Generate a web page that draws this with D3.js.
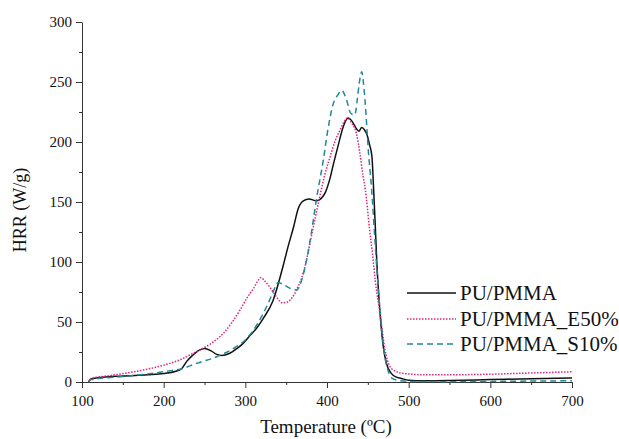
<!DOCTYPE html>
<html>
<head>
<meta charset="utf-8">
<script src="https://cdn.jsdelivr.net/npm/d3@7"></script>
<style>
  body { margin: 0; background: #fff; }
  text { font-family: "Liberation Serif", "Times New Roman", serif; fill: #111; }
</style>
</head>
<body>
<script>
// HRR curves, [temperature, HRR]
var puPmma = [
  [108,0],[111,2.5],[120,3.5],[150,5],[180,6],[200,7],[215,9],[222,11],[228,17],
  [235,22],[242,26],[250,28],[258,26],[265,23],[271,22],[281,24],[290,28],[297,32],
  [306,39],[314,45],[322,53],[334,68],[346,96],[352,112],[359,129],[365,145],
  [371,151],[378,152.5],[387,151],[393,153],[398,158],[403,168],[408,182],[414,198],
  [420,213],[426,220],[431,217],[436,211],[439,209],[442.5,212],[446,210],[449,206],
  [452,198],[455,188],[457,162],[459,132],[461,100],[465,57],[469,29],[473,15],
  [479,7],[485,4],[491,3],[500,1.5],[520,1],[550,1.2],[600,2],[650,2.8],[700,3.3]
];
var puPmmaE50 = [
  [108,0],[111,3],[130,5],[150,7],[175,10],[200,14],[220,18.5],[232,22.5],[248,28],
  [260,33],[273,40.5],[283,49],[293.5,60],[302,70],[310,78],[316,85],[319,87],
  [324,84],[330,79],[338,71],[345,66],[351,66.5],[358,71],[365,80],[371,91],
  [379,115],[385,135],[391,154],[397,172],[404,188],[410,201],[416,210],[421,217],
  [425,220],[430,216],[436,207],[440,192],[444,172],[447,160],[452,128],[456,105],
  [459,85],[465,57],[471,27],[477,13],[485,8.6],[495,7],[520,6],[550,6],[600,6.5],
  [650,7.5],[700,8.5]
];
var puPmmaS10 = [
  [108,0],[111,2],[150,4.5],[204,9],[224,11.4],[240,15.5],[265,21],[289,29.5],
  [300,35],[314,47.5],[326,62.7],[334,75],[340,83],[347,81],[355,78],[363,76.7],
  [369,85],[375,101.7],[381,125],[387,152],[395.5,185],[401,210],[407.7,232],
  [413,239],[418,243],[424,235],[429,224],[434,222.5],[437,235],[439.5,249],
  [442.5,258.6],[444.5,250],[446.5,235],[450.6,193],[454.7,160],[458.7,118],
  [462,85],[466,52],[470,25],[475,9],[480,3],[490,1],[500,0.5],[550,0.3],
  [600,0.5],[650,0.8],[700,1]
];

var seriesNames = ["PU/PMMA", "PU/PMMA_E50%", "PU/PMMA_S10%"];
var xTicks = [100, 200, 300, 400, 500, 600, 700];
var yTicks = [0, 50, 100, 150, 200, 250, 300];

var width = 619, height = 439;

var svg = d3.select("body").append("svg")
    .attr("width", width)
    .attr("height", height);

var x = d3.scaleLinear().domain([100, 700]).range([82, 572]);
var y = d3.scaleLinear().domain([0, 300]).range([382, 22]);

// minor ticks first, then major ticks with labels
svg.append("g")
    .attr("transform", "translate(0," + y(0) + ")")
    .call(d3.axisBottom(x).tickValues(d3.range(150, 700, 100)).tickSize(3).tickFormat(""))
    .call(function(g) { g.select(".domain").remove(); });
svg.append("g")
    .attr("transform", "translate(" + x(100) + ",0)")
    .call(d3.axisLeft(y).tickValues(d3.range(25, 300, 50)).tickSize(3).tickFormat(""))
    .call(function(g) { g.select(".domain").remove(); });

var xAxis = svg.append("g")
    .attr("transform", "translate(0," + y(0) + ")")
    .call(d3.axisBottom(x).tickValues(xTicks).tickSize(6).tickPadding(7).tickSizeOuter(0));
var yAxis = svg.append("g")
    .attr("transform", "translate(" + x(100) + ",0)")
    .call(d3.axisLeft(y).tickValues(yTicks).tickSize(6).tickPadding(4).tickSizeOuter(0));

svg.selectAll(".tick line, .domain").attr("stroke", "#333").attr("stroke-width", 1);
svg.selectAll(".tick text")
    .style("font-family", "Liberation Serif")
    .style("font-size", "15px")
    .attr("fill", "#111");

svg.append("text")
    .attr("x", 326)
    .attr("y", 433)
    .attr("text-anchor", "middle")
    .style("font-size", "19px")
    .text("Temperature (ºC)");

svg.append("text")
    .attr("transform", "translate(26,210)rotate(-90)")
    .attr("text-anchor", "middle")
    .style("font-size", "18px")
    .text("HRR (W/g)");

var styles = [
  {color: "#111", dash: null, data: puPmma},
  {color: "#e0207f", dash: "1.5,1.5", data: puPmmaE50},
  {color: "#23869a", dash: "6,4", data: puPmmaS10}
];

var line = d3.line()
    .x(function(d) { return x(d[0]); })
    .y(function(d) { return y(d[1]); })
    .curve(d3.curveMonotoneX);

svg.selectAll("path.curve")
    .data(styles)
  .enter().append("path")
    .attr("class", "curve")
    .attr("fill", "none")
    .attr("stroke", function(d) { return d.color; })
    .attr("stroke-width", 1.5)
    .attr("stroke-dasharray", function(d) { return d.dash; })
    .attr("d", function(d) { return line(d.data); });

// legend
var legendY = [293, 319, 344];
var legend = svg.selectAll("g.legend")
    .data(styles)
  .enter().append("g")
    .attr("class", "legend")
    .attr("transform", function(d, i) { return "translate(0," + legendY[i] + ")"; });
legend.append("line")
    .attr("x1", 407).attr("x2", 456)
    .attr("stroke", function(d) { return d.color; })
    .attr("stroke-width", 1.5)
    .attr("stroke-dasharray", function(d) { return d.dash; });
legend.append("text")
    .attr("x", 460)
    .attr("dy", "0.35em")
    .style("font-size", "21px")
    .text(function(d, i) { return seriesNames[i]; });
</script>
</body>
</html>
